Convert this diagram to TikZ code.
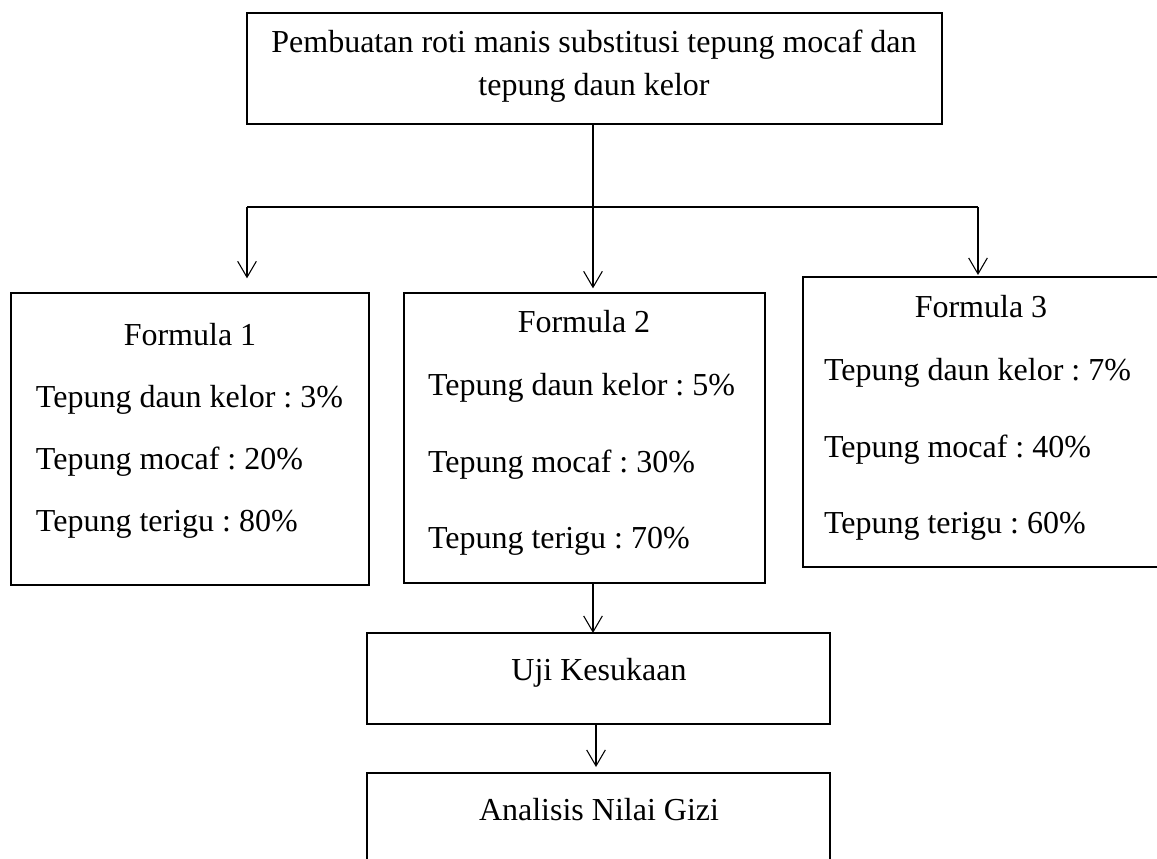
\documentclass[tikz,border=0pt]{standalone}
\usepackage{fontspec}
\setmainfont{Liberation Serif}
\usetikzlibrary{arrows.meta,calc}
\frenchspacing
\tikzset{
  box/.style={draw=black, line width=2.2pt, rectangle, inner sep=0pt, outer sep=0pt},
  txt/.style={inner sep=0pt, outer sep=0pt, font=\fontsize{24}{29}\selectfont\frenchspacing},
  conn/.style={draw=black, line width=0.8pt},
  arr/.style={conn, -{Straight Barb[length=12pt,width=14pt,line width=0.8pt]}}
}
\begin{document}
\begin{tikzpicture}[x=0.75pt,y=-0.75pt]
\useasboundingbox (0,0) rectangle (1157,859);
\fill[white] (0,0) rectangle (1157,859);
% boxes
\node[box, minimum width=521.25pt, minimum height=83.25pt] (top) at (594.5,68.5) {};
\node[box, minimum width=268.5pt, minimum height=219pt] (f1) at (190,439) {};
\node[box, minimum width=270.75pt, minimum height=217.5pt] (f2) at (584.5,438) {};
\node[box, minimum width=271.5pt, minimum height=217.5pt] (f3) at (984,422) {};
\node[box, minimum width=347.25pt, minimum height=68.25pt] (uji) at (598.5,678.5) {};
\node[box, minimum width=347.25pt, minimum height=72.75pt] (ana) at (598.5,821.5) {};
% texts
\node[txt, anchor=base] (t1) at (594,53) {Pembuatan roti manis substitusi tepung mocaf dan};
\node[txt, anchor=base] (t2) at (594,96) {tepung daun kelor};
\node[txt, anchor=base] (f1t) at (190,346) {Formula 1};
\node[txt, anchor=base west] (f1a) at (36,407) {Tepung daun kelor : 3\%};
\node[txt, anchor=base west] (f1b) at (36,469) {Tepung mocaf : 20\%};
\node[txt, anchor=base west] (f1c) at (36,531) {Tepung terigu : 80\%};
\node[txt, anchor=base] (f2t) at (584,333) {Formula 2};
\node[txt, anchor=base west] (f2a) at (428,395) {Tepung daun kelor : 5\%};
\node[txt, anchor=base west] (f2b) at (428,472) {Tepung mocaf : 30\%};
\node[txt, anchor=base west] (f2c) at (428,548) {Tepung terigu : 70\%};
\node[txt, anchor=base] (f3t) at (981,318) {Formula 3};
\node[txt, anchor=base west] (f3a) at (824,380) {Tepung daun kelor : 7\%};
\node[txt, anchor=base west] (f3b) at (824,457) {Tepung mocaf : 40\%};
\node[txt, anchor=base west] (f3c) at (824,533) {Tepung terigu : 60\%};
\node[txt, anchor=base] (ujit) at (599,680) {Uji Kesukaan};
\node[txt, anchor=base] (anat) at (599,820) {Analisis Nilai Gizi};
% connectors
\coordinate (j) at (593,207);
\coordinate (jl) at (247,207);
\coordinate (jr) at (978,207);
\coordinate (k) at (596,0);
\draw[conn] (top.south -| j) -- (j);
\draw[conn] (jl) -- (jr);
\draw[arr, shorten >=11pt] (jl) -- (f1.north -| jl);
\draw[arr, shorten >=3.5pt] (j) -- (f2.north -| j);
\draw[arr, shorten >=1.5pt] (jr) -- (f3.north -| jr);
\draw[arr] (f2.south -| j) -- (uji.north -| j);
\draw[arr, shorten >=4.5pt] (uji.south -| k) -- (ana.north -| k);
\end{tikzpicture}
\end{document}
